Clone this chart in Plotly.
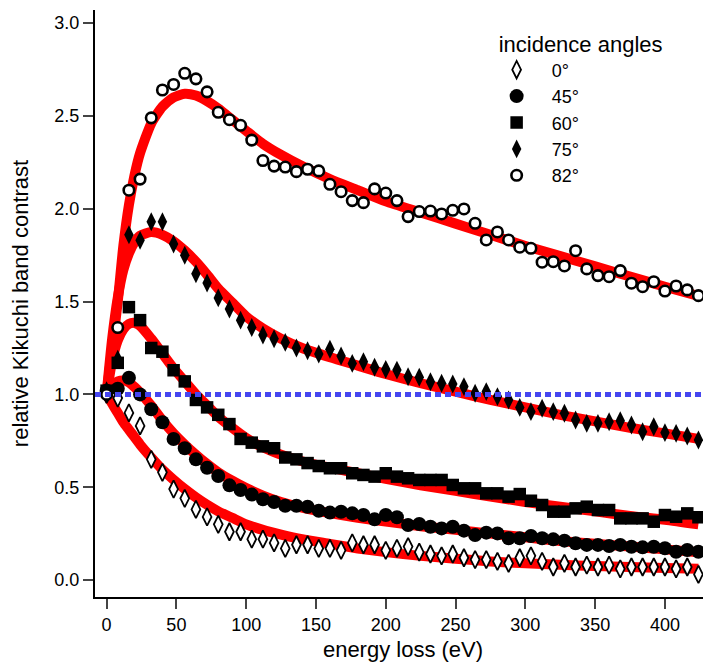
import plotly.graph_objects as go

# energy loss (eV) of the measured points
energy = [0, 8, 16, 24, 32, 40, 48, 56, 64, 72, 80, 88, 96, 104, 112, 120, 128, 136,
          144, 152, 160, 168, 176, 184, 192, 200, 208, 216, 224, 232, 240, 248, 256, 264,
          272, 280, 288, 296, 304, 312, 320, 328, 336, 344, 352, 360, 368, 376, 384, 392,
          400, 408, 416, 424]

# relative Kikuchi band contrast for each incidence angle
c0 = [1.00, 0.98, 0.90, 0.83, 0.65, 0.58, 0.49, 0.44, 0.38, 0.34, 0.30, 0.26, 0.26, 0.22,
      0.22, 0.20, 0.17, 0.19, 0.19, 0.17, 0.17, 0.16, 0.20, 0.19, 0.19, 0.16, 0.17, 0.18,
      0.15, 0.14, 0.13, 0.14, 0.12, 0.11, 0.11, 0.10, 0.09, 0.12, 0.13, 0.10, 0.07, 0.09,
      0.07, 0.08, 0.07, 0.08, 0.06, 0.07, 0.07, 0.07, 0.07, 0.06, 0.07, 0.03]
c45 = [1.02, 1.03, 1.09, 1.00, 0.92, 0.85, 0.76, 0.71, 0.65, 0.605, 0.56, 0.51, 0.485, 0.46,
       0.435, 0.42, 0.40, 0.40, 0.395, 0.373, 0.363, 0.368, 0.359, 0.35, 0.327, 0.35, 0.338,
       0.296, 0.302, 0.287, 0.278, 0.287, 0.266, 0.242, 0.255, 0.251, 0.225, 0.225, 0.237,
       0.225, 0.219, 0.212, 0.198, 0.189, 0.189, 0.183, 0.189, 0.179, 0.176, 0.179, 0.171,
       0.152, 0.162, 0.152]
c60 = [1.02, 1.17, 1.47, 1.40, 1.25, 1.23, 1.13, 1.07, 0.97, 0.93, 0.89, 0.84, 0.76, 0.74,
       0.72, 0.71, 0.66, 0.65, 0.63, 0.614, 0.602, 0.602, 0.575, 0.566, 0.557, 0.575, 0.557,
       0.548, 0.539, 0.539, 0.539, 0.512, 0.494, 0.494, 0.467, 0.467, 0.449, 0.463, 0.427,
       0.404, 0.368, 0.368, 0.386, 0.395, 0.377, 0.377, 0.332, 0.332, 0.332, 0.314, 0.350,
       0.341, 0.359, 0.338]
c75 = [1.02, 1.19, 1.86, 1.83, 1.93, 1.93, 1.81, 1.75, 1.65, 1.60, 1.52, 1.46, 1.40, 1.36,
       1.32, 1.30, 1.28, 1.25, 1.235, 1.218, 1.243, 1.207, 1.167, 1.176, 1.146, 1.135, 1.131,
       1.095, 1.092, 1.068, 1.060, 1.056, 1.042, 1.006, 1.015, 0.988, 0.970, 0.930, 0.907,
       0.925, 0.907, 0.898, 0.862, 0.844, 0.844, 0.853, 0.858, 0.835, 0.799, 0.826, 0.794,
       0.790, 0.776, 0.754]
c82 = [1.00, 1.36, 2.10, 2.16, 2.49, 2.64, 2.67, 2.73, 2.70, 2.63, 2.52, 2.48, 2.45, 2.37,
       2.26, 2.23, 2.225, 2.20, 2.213, 2.204, 2.132, 2.092, 2.044, 2.033, 2.107, 2.085, 2.044,
       1.958, 1.985, 1.988, 1.972, 1.992, 1.999, 1.922, 1.832, 1.875, 1.832, 1.793, 1.787,
       1.712, 1.715, 1.692, 1.774, 1.676, 1.640, 1.634, 1.667, 1.599, 1.580, 1.607, 1.557,
       1.584, 1.563, 1.532]

fit_energy = [0, 4, 8, 12, 16, 20, 24, 32, 40, 48, 56, 64, 72, 80, 90, 100, 112, 125, 140,
              160, 180, 200, 225, 250, 275, 300, 325, 350, 375, 400, 424]
fit0 = [1.0, 0.95, 0.90, 0.85, 0.81, 0.77, 0.73, 0.66, 0.595, 0.54, 0.49, 0.445, 0.405,
        0.37, 0.335, 0.30, 0.27, 0.245, 0.22, 0.195, 0.17, 0.15, 0.13, 0.115, 0.10, 0.09,
        0.082, 0.075, 0.07, 0.065, 0.06]
fit45 = [1.0, 1.05, 1.07, 1.075, 1.065, 1.04, 1.01, 0.94, 0.86, 0.79, 0.73, 0.675, 0.625,
         0.58, 0.535, 0.495, 0.455, 0.42, 0.39, 0.36, 0.335, 0.315, 0.29, 0.27, 0.25, 0.23,
         0.21, 0.195, 0.18, 0.165, 0.15]
fit60 = [1.0, 1.18, 1.29, 1.35, 1.38, 1.385, 1.37, 1.30, 1.22, 1.14, 1.07, 1.00, 0.94,
         0.88, 0.82, 0.765, 0.715, 0.675, 0.64, 0.605, 0.575, 0.545, 0.51, 0.48, 0.45, 0.42,
         0.395, 0.37, 0.345, 0.325, 0.30]
fit75 = [1.0, 1.30, 1.52, 1.67, 1.76, 1.82, 1.855, 1.875, 1.86, 1.825, 1.775, 1.715, 1.645,
         1.57, 1.495, 1.42, 1.355, 1.30, 1.25, 1.20, 1.155, 1.11, 1.06, 1.015, 0.97, 0.93,
         0.89, 0.855, 0.82, 0.79, 0.76]
fit82 = [1.0, 1.25, 1.50, 1.80, 2.02, 2.18, 2.30, 2.46, 2.55, 2.60, 2.62, 2.61, 2.58, 2.54,
         2.48, 2.42, 2.35, 2.29, 2.23, 2.16, 2.10, 2.04, 1.98, 1.92, 1.86, 1.80, 1.745, 1.69,
         1.635, 1.58, 1.53]

fig = go.Figure()

for f in [fit0, fit45, fit60, fit75, fit82]:
    fig.add_trace(go.Scatter(x=fit_energy, y=f, mode="lines",
                             line=dict(color="#ff0000", width=10, shape="spline", smoothing=0.6),
                             showlegend=False, hoverinfo="skip"))

sp = "\u00a0\u00a0\u00a0"
fig.add_trace(go.Scatter(x=energy, y=c0, mode="markers", name=sp + "0°",
                         marker=dict(symbol="diamond-tall", size=12.5, color="white",
                                     line=dict(color="black", width=1.8))))
fig.add_trace(go.Scatter(x=energy, y=c45, mode="markers", name=sp + "45°",
                         marker=dict(symbol="circle", size=14, color="black",
                                     line=dict(width=0))))
fig.add_trace(go.Scatter(x=energy, y=c60, mode="markers", name=sp + "60°",
                         marker=dict(symbol="square", size=12.5, color="black",
                                     line=dict(width=0))))
fig.add_trace(go.Scatter(x=energy, y=c75, mode="markers", name=sp + "75°",
                         marker=dict(symbol="diamond-tall", size=13.5, color="black",
                                     line=dict(width=0))))
fig.add_trace(go.Scatter(x=energy, y=c82, mode="markers", name=sp + "82°",
                         marker=dict(symbol="circle", size=10.5, color="white",
                                     line=dict(color="black", width=2.6))))

# reference level
fig.add_trace(go.Scatter(x=[-8.3, 433], y=[1.0, 1.0], mode="lines", showlegend=False,
                         line=dict(color="rgb(70,70,240)", width=5, dash="6px,4px"),
                         hoverinfo="skip"))

fig.update_xaxes(range=[-8.3, 433], tickvals=[0, 50, 100, 150, 200, 250, 300, 350, 400],
                 ticks="outside", ticklen=10, tickwidth=1.5, showline=True, linewidth=2,
                 linecolor="black", showgrid=False, zeroline=False, automargin=False,
                 title=dict(text="energy loss (eV)", standoff=8))
fig.update_yaxes(range=[-0.0916, 3.071], tickvals=[0, 0.5, 1.0, 1.5, 2.0, 2.5, 3.0],
                 tickformat=".1f", ticks="outside", ticklen=10, tickwidth=1.5,
                 showline=True, linewidth=2, linecolor="black", showgrid=False,
                 zeroline=False, automargin=False,
                 title=dict(text="relative Kikuchi band contrast", standoff=23))

# page body has an 8px margin, so the figure is 8px smaller than the window
fig.update_layout(
    width=703, height=655,
    margin=dict(l=87, r=0, t=2, b=66),
    plot_bgcolor="white", paper_bgcolor="white",
    font=dict(family="Liberation Sans, Arial", size=18, color="black"),
    legend=dict(x=0.652, y=0.978, xanchor="left", yanchor="top",
                title=dict(text="incidence angles"), bgcolor="rgba(0,0,0,0)",
                font=dict(size=18)),
)

fig.write_html("out.html")
